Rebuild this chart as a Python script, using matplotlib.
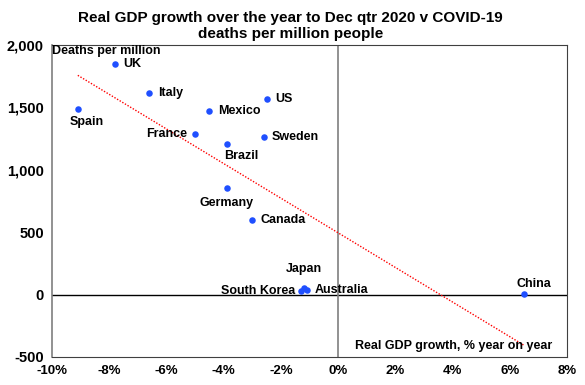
import numpy as np
import matplotlib.pyplot as plt

plt.rcParams['font.family'] = ['Liberation Sans', 'DejaVu Sans']
plt.rcParams['font.weight'] = 'bold'

countries = ["UK", "Italy", "Spain", "Mexico", "US", "France", "Sweden", "Brazil",
             "Germany", "Canada", "Japan", "South Korea", "Australia", "China"]
gdp_growth = [-7.8, -6.6, -9.1, -4.5, -2.5, -5.0, -2.6, -3.9, -3.9, -3.0, -1.2, -1.3, -1.1, 6.5]
deaths = [1850, 1615, 1485, 1470, 1565, 1285, 1260, 1205, 850, 595, 55, 30, 40, 5]

# label placement: (dx, dy, ha, va) in points
label_pos = {
    "UK": (6, 0, "left", "center"),
    "Italy": (6, 0, "left", "center"),
    "Spain": (-6, -5, "left", "top"),
    "Mexico": (6, 0, "left", "center"),
    "US": (6, 0, "left", "center"),
    "France": (-6, 0, "right", "center"),
    "Sweden": (6, 0, "left", "center"),
    "Brazil": (-2, -4, "left", "top"),
    "Germany": (0, -6, "center", "top"),
    "Canada": (6, 0, "left", "center"),
    "Japan": (0, 9, "center", "bottom"),
    "South Korea": (-4, 0, "right", "center"),
    "Australia": (6, 0, "left", "center"),
    "China": (7, 3, "center", "bottom"),
}

fig, ax = plt.subplots(figsize=(5.85, 3.85), dpi=100)
fig.subplots_adjust(left=0.089, right=0.969, top=0.883, bottom=0.073)

ax.axhline(0, color="black", lw=1, zorder=1)
ax.axvline(0, color="#7f7f7f", lw=1.2, zorder=1)

# linear trend over the data range
fit = np.polyfit(gdp_growth, deaths, 1)
xs = np.array([min(gdp_growth), max(gdp_growth)])
ax.plot(xs, np.polyval(fit, xs), color="red", lw=1, ls=(0, (1, 1.2)), zorder=2)

ax.scatter(gdp_growth, deaths, s=22, color="#1f4fff", zorder=3, linewidths=0)

for name, x, y in zip(countries, gdp_growth, deaths):
    dx, dy, ha, va = label_pos[name]
    ax.annotate(name, (x, y), xytext=(dx, dy), textcoords="offset points",
                ha=ha, va=va, fontsize=9, fontweight="bold")

ax.set_xlim(-10, 8)
ax.set_ylim(-500, 2000)
ax.set_xticks(np.arange(-10, 9, 2))
ax.set_xticklabels([f"{v}%" for v in range(-10, 9, 2)])
ax.set_yticks(np.arange(-500, 2001, 500))
ax.set_yticklabels([f"{v:,}" for v in range(-500, 2001, 500)])
ax.tick_params(length=0, pad=6)
ax.tick_params(axis="x", labelsize=9.5)
ax.tick_params(axis="y", labelsize=10.5)
for lab in ax.get_xticklabels() + ax.get_yticklabels():
    lab.set_fontweight("bold")

for side in ["top", "right", "bottom"]:
    ax.spines[side].set_color("#404040")
ax.spines["left"].set_color("#7f7f7f")
ax.spines["left"].set_linewidth(1.2)

ax.text(0.0, 1.0, "Deaths per million", transform=ax.transAxes, ha="left", va="top",
        fontsize=9, fontweight="bold")
ax.text(0.972, 0.015, "Real GDP growth, % year on year", transform=ax.transAxes,
        ha="right", va="bottom", fontsize=9, fontweight="bold")

fig.text(0.497, 0.972, "Real GDP growth over the year to Dec qtr 2020 v COVID-19\ndeaths per million people",
         ha="center", va="top", fontsize=11, fontweight="bold", linespacing=1.2)

plt.savefig("out.png", dpi=100)
